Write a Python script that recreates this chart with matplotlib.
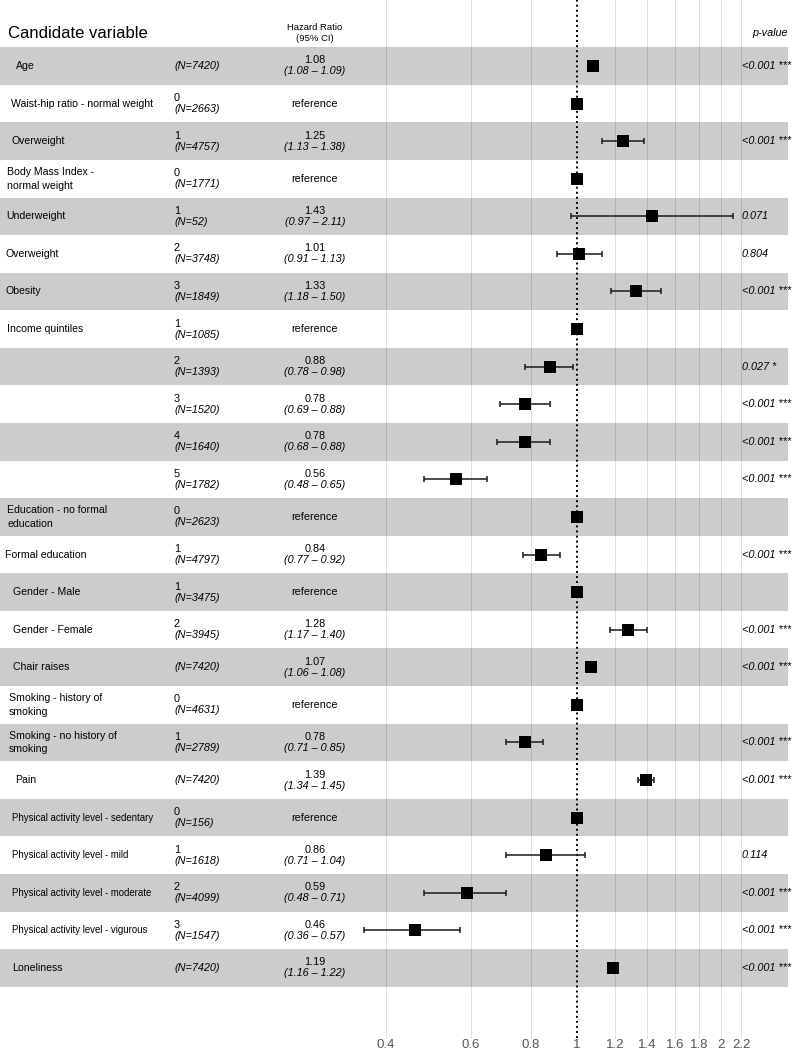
import numpy as np
import matplotlib
matplotlib.use("Agg")
import matplotlib.pyplot as plt
from matplotlib import transforms

plt.rcParams['font.family'] = ['Liberation Sans', 'DejaVu Sans']

# data
labels = ["Age", "Waist-hip ratio - normal weight", "Overweight",
          "Body Mass Index -\nnormal weight", "Underweight", "Overweight",
          "Obesity", "Income quintiles", "", "", "", "",
          "Education - no formal\neducation", "Formal education",
          "Gender - Male", "Gender - Female", "Chair raises",
          "Smoking - history of\nsmoking", "Smoking - no history of\nsmoking",
          "Pain", "Physical activity level - sedentary",
          "Physical activity level - mild", "Physical activity level - moderate",
          "Physical activity level - vigurous", "Loneliness"]
levels = ["", "0", "1", "0", "1", "2", "3", "1", "2", "3", "4", "5",
          "0", "1", "1", "2", "", "0", "1", "", "0", "1", "2", "3", ""]
n_obs = [7420, 2663, 4757, 1771, 52, 3748, 1849, 1085, 1393, 1520, 1640, 1782,
         2623, 4797, 3475, 3945, 7420, 4631, 2789, 7420, 156, 1618, 4099, 1547, 7420]
hr = [1.08, 1.00, 1.25, 1.00, 1.43, 1.01, 1.33, 1.00, 0.88, 0.78, 0.78, 0.56,
      1.00, 0.84, 1.00, 1.28, 1.07, 1.00, 0.78, 1.39, 1.00, 0.86, 0.59, 0.46, 1.19]
nan = np.nan
ci_lo = [1.08, nan, 1.13, nan, 0.97, 0.91, 1.18, nan, 0.78, 0.69, 0.68, 0.48,
         nan, 0.77, nan, 1.17, 1.06, nan, 0.71, 1.34, nan, 0.71, 0.48, 0.36, 1.16]
ci_hi = [1.09, nan, 1.38, nan, 2.11, 1.13, 1.50, nan, 0.98, 0.88, 0.88, 0.65,
         nan, 0.92, nan, 1.40, 1.08, nan, 0.85, 1.45, nan, 1.04, 0.71, 0.57, 1.22]
p_text = ["<0.001 ***", "", "<0.001 ***", "", "0.071", "0.804", "<0.001 ***", "",
          "0.027 *", "<0.001 ***", "<0.001 ***", "<0.001 ***", "", "<0.001 ***", "",
          "<0.001 ***", "<0.001 ***", "", "<0.001 ***", "<0.001 ***", "", "0.114",
          "<0.001 ***", "<0.001 ***", "<0.001 ***"]
x_ticks = [0.4, 0.6, 0.8, 1, 1.2, 1.4, 1.6, 1.8, 2, 2.2]

# layout (pixels of a 795x1050 canvas)
W, H = 795, 1050
label_indent = [16, 11, 11, 7, 6, 6, 6, 7, 7, 7, 7, 7, 7, 5, 13, 13, 13,
                9, 9, 15, 12, 12, 12, 12, 12]
row_px = 37.58
first_row_px = 66
x_one_px = 577
px_per_log = 208.3

fig = plt.figure(figsize=(W / 100, H / 100), dpi=100)
ax = fig.add_axes([0, 0, 1, 1])
ax.set_xscale('log')
ax.set_xlim(np.exp(-x_one_px / px_per_log), np.exp((W - x_one_px) / px_per_log))
y_top = 1 - first_row_px / row_px
y_bot = y_top + H / row_px
ax.set_ylim(y_bot, y_top)
ax.axis('off')

fx = lambda px: px / W
fy = lambda px: 1 - px / H
dy = lambda px: px / row_px
tr = transforms.blended_transform_factory(ax.transAxes, ax.transData)

rows = np.arange(1, len(labels) + 1)
hr_a = np.array(hr)
lo_a = np.array(ci_lo)
hi_a = np.array(ci_hi)

# zebra bands
for y in rows:
    if y % 2 == 1:
        ax.axhspan(y - 0.5, y + 0.5, xmin=0, xmax=788 / W, color='#cccccc',
                   lw=0, zorder=0)

# grid lines and reference line
grid_bottom = fy(1038)
for t in x_ticks:
    if t == 1:
        continue
    ax.axvline(t, ymin=grid_bottom, ymax=1, color='black', alpha=0.13,
               lw=0.7, zorder=1)
ax.axvline(1, ymin=grid_bottom, ymax=1, color='black', lw=1.4,
           linestyle=(0, (1, 1.6)), zorder=2)

# tick labels
for t in x_ticks:
    ax.text(t, fy(1045), f"{t:g}", transform=ax.get_xaxis_transform(),
            ha='center', va='center', fontsize=9.5, color='#555555')

# confidence intervals and estimates
has_ci = ~np.isnan(lo_a)
ax.errorbar(hr_a[has_ci], rows[has_ci],
            xerr=[hr_a[has_ci] - lo_a[has_ci], hi_a[has_ci] - hr_a[has_ci]],
            fmt='none', ecolor='#1a1a1a', elinewidth=1.1, capsize=2.3,
            capthick=1.1, zorder=3)
ax.scatter(hr_a, rows, marker='s', s=85, color='black', zorder=4, lw=0)

# header
ax.text(fx(8), fy(33), "Candidate variable", transform=ax.transAxes,
        ha='left', va='center', fontsize=12)
ax.text(fx(315), fy(33), "Hazard Ratio\n(95% CI)", transform=ax.transAxes,
        ha='center', va='center', fontsize=6.8, linespacing=1.4)
ax.text(fx(770), fy(33), "p-value", transform=ax.transAxes,
        ha='center', va='center', fontsize=7.8, style='italic')

# table text
for i, y in enumerate(rows):
    size = 6.9 if labels[i].startswith("Physical") else 7.6
    ax.text(fx(label_indent[i]), y, labels[i], transform=tr, ha='left',
            va='center', fontsize=size, linespacing=1.45)
    n_txt = f"(N={n_obs[i]})"
    if levels[i]:
        ax.text(fx(174), y - dy(5.5), levels[i], transform=tr, ha='left',
                va='center', fontsize=7.8)
        ax.text(fx(174), y + dy(5.5), n_txt, transform=tr, ha='left',
                va='center', fontsize=7.8, style='italic')
    else:
        ax.text(fx(174), y, n_txt, transform=tr, ha='left', va='center',
                fontsize=7.8, style='italic')
    if np.isnan(lo_a[i]):
        ax.text(fx(315), y, "reference", transform=tr, ha='center',
                va='center', fontsize=7.8)
    else:
        ax.text(fx(315), y - dy(5.5), f"{hr[i]:.2f}", transform=tr,
                ha='center', va='center', fontsize=7.8)
        ax.text(fx(315), y + dy(5.5), f"({ci_lo[i]:.2f} \u2013 {ci_hi[i]:.2f})",
                transform=tr, ha='center', va='center', fontsize=7.8,
                style='italic')
    if p_text[i]:
        ax.text(fx(742), y, p_text[i], transform=tr, ha='left', va='center',
                fontsize=7.8, style='italic')

fig.savefig("out.png", dpi=100)
